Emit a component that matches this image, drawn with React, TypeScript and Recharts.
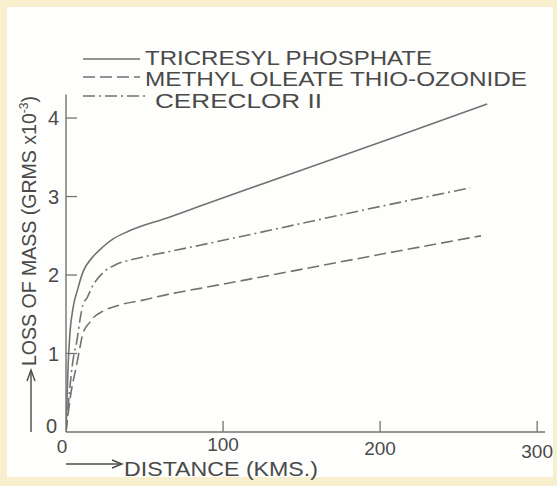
import React from 'react';
import { LineChart, Line, XAxis, YAxis, Legend } from 'recharts';

// Tricresyl phosphate (solid)
const tcpDistance = [0, 1.3, 2.5, 4.5, 7.6, 10.8, 16.6, 23.6, 30, 40, 66.2, 85.4, 212.7, 268.2];
const tcpLoss = [0, 0.83, 1.26, 1.58, 1.83, 2.04, 2.22, 2.36, 2.46, 2.56, 2.74, 2.88, 3.78, 4.18];

// Methyl oleate thio-ozonide (dashed)
const motDistance = [0, 2.5, 7.0, 8.9, 10.8, 15.3, 17.2, 23.6, 34.4, 49.0, 66.2, 85.4, 212.7, 264.3];
const motLoss = [0, 0.41, 0.88, 1.08, 1.26, 1.4, 1.45, 1.54, 1.62, 1.68, 1.76, 1.83, 2.31, 2.5];

// Cereclor II (dash-dot)
const cerDistance = [0, 4.5, 7.0, 8.9, 10.8, 13.4, 17.2, 23.6, 32.5, 42.7, 66.2, 85.4, 206.4, 257.3];
const cerLoss = [0, 0.92, 1.17, 1.43, 1.62, 1.71, 1.87, 2.03, 2.14, 2.2, 2.3, 2.38, 2.9, 3.11];

const seriesNames = ['TRICRESYL PHOSPHATE', 'METHYL OLEATE THIO-OZONIDE', 'CERECLOR II'];
const xTicks = [0, 100, 200, 300];
const yTicks = [0, 1, 2, 3, 4];

const toRows = (xs: number[], ys: number[]) => xs.map((d, i) => ({ d, v: ys[i] }));
const tcpData = toRows(tcpDistance, tcpLoss);
const motData = toRows(motDistance, motLoss);
const cerData = toRows(cerDistance, cerLoss);

const INK = '#4a4a4a';
const LINE = '#727272';
const FONT = "'Liberation Sans', Arial, sans-serif";
const DASH = '12 5';
const DASHDOT = '12 4 2 4';

const YTick = (props: any) => {
  const { x, y, payload } = props;
  const v = payload.value;
  if (v === 0) {
    return (
      <text x={x - 9} y={y - 6} textAnchor="end" dominantBaseline="central" fontSize={20} fill={INK} fontFamily={FONT}>0</text>
    );
  }
  return (
    <g>
      <line x1={x} x2={x + 11} y1={y} y2={y} stroke={LINE} strokeWidth={1.3} />
      <text x={x - 7} y={y} textAnchor="end" dominantBaseline="central" fontSize={20} fill={INK} fontFamily={FONT}>{v}</text>
    </g>
  );
};

const XTick = (props: any) => {
  const { x, y, payload } = props;
  const v = payload.value;
  if (v === 0) {
    return (
      <text x={x - 4} y={y + 14} textAnchor="middle" dominantBaseline="central" fontSize={19} fill={INK} fontFamily={FONT}>0</text>
    );
  }
  const dy = v === 100 ? 12 : v === 200 ? 16 : 19;
  return (
    <g>
      <line x1={x} x2={x} y1={y} y2={y - 11} stroke={LINE} strokeWidth={1.3} />
      <text x={x} y={y + dy} textAnchor="middle" dominantBaseline="central" fontSize={19} fill={INK} fontFamily={FONT}>{v}</text>
    </g>
  );
};

const YLabel = () => (
  <g>
    <line x1={31} x2={31} y1={432} y2={372} stroke={INK} strokeWidth={1.4} />
    <path d="M27,381 L31,370 L35,381" fill="none" stroke={INK} strokeWidth={1.4} />
    <text
      x={36}
      y={366}
      transform="rotate(-90, 36, 366)"
      fontSize={21}
      fill={INK}
      fontFamily={FONT}
      textLength={270}
      lengthAdjust="spacingAndGlyphs"
    >
      LOSS OF MASS (GRMS x10<tspan dy={-8} fontSize={13}>-3</tspan><tspan dy={8}>)</tspan>
    </text>
  </g>
);

const XLabel = () => (
  <g>
    <line x1={66} x2={121} y1={464} y2={464} stroke={INK} strokeWidth={1.4} />
    <path d="M112,460 L122,464 L112,468" fill="none" stroke={INK} strokeWidth={1.4} />
    <text x={124} y={476} fontSize={21} fill={INK} fontFamily={FONT} textLength={194} lengthAdjust="spacingAndGlyphs">
      DISTANCE (KMS.)
    </text>
  </g>
);

const legendRows = [
  { dash: undefined as string | undefined, lineY: 59, textX: 145, textY: 65, len: 287, x2: 140 },
  { dash: DASH, lineY: 77, textX: 145, textY: 86, len: 382, x2: 140 },
  { dash: DASHDOT, lineY: 96, textX: 155, textY: 108, len: 167, x2: 148 },
];

const LegendContent = () => (
  <svg width={557} height={120} style={{ display: 'block' }}>
    {legendRows.map((r, i) => (
      <g key={seriesNames[i]}>
        <line x1={83} x2={r.x2} y1={r.lineY} y2={r.lineY} stroke={LINE} strokeWidth={1.5} strokeDasharray={r.dash} />
        <text x={r.textX} y={r.textY} fontSize={21} fill={INK} fontFamily={FONT} textLength={r.len} lengthAdjust="spacingAndGlyphs">
          {seriesNames[i]}
        </text>
      </g>
    ))}
  </svg>
);

export default function App() {
  return (
    <div style={{ position: 'absolute', left: 0, top: 0, width: 557, height: 486, background: '#f8efcf', overflow: 'hidden' }}>
      <div style={{ position: 'absolute', left: 7, top: 7, width: 546, height: 470, background: '#fefefc' }} />
      <div style={{ position: 'absolute', left: 0, top: 0 }}>
        <LineChart width={557} height={486} margin={{ top: 94.5, left: 65, right: 12, bottom: 53 }}>
          <XAxis
            type="number"
            dataKey="d"
            domain={[0, 305]}
            ticks={xTicks}
            allowDataOverflow
            height={1}
            tickSize={0}
            tickMargin={0}
            tickLine={false}
            axisLine={{ stroke: LINE, strokeWidth: 1.4 }}
            tick={<XTick />}
            label={<XLabel />}
          />
          <YAxis
            type="number"
            dataKey="v"
            domain={[0, 4.3]}
            ticks={yTicks}
            allowDataOverflow
            width={1}
            tickSize={0}
            tickMargin={0}
            tickLine={false}
            axisLine={{ stroke: LINE, strokeWidth: 1.4 }}
            tick={<YTick />}
            label={<YLabel />}
          />
          <Legend
            layout="horizontal"
            verticalAlign="middle"
            align="center"
            wrapperStyle={{ position: 'absolute', left: 0, top: 0, width: 557, height: 120 }}
            content={<LegendContent />}
          />
          <Line data={tcpData} dataKey="v" name={seriesNames[0]} type="monotone" stroke={LINE} strokeWidth={1.6} dot={false} isAnimationActive={false} />
          <Line data={motData} dataKey="v" name={seriesNames[1]} type="monotone" stroke={LINE} strokeWidth={1.6} strokeDasharray={DASH} dot={false} isAnimationActive={false} />
          <Line data={cerData} dataKey="v" name={seriesNames[2]} type="monotone" stroke={LINE} strokeWidth={1.6} strokeDasharray={DASHDOT} dot={false} isAnimationActive={false} />
        </LineChart>
      </div>
    </div>
  );
}
